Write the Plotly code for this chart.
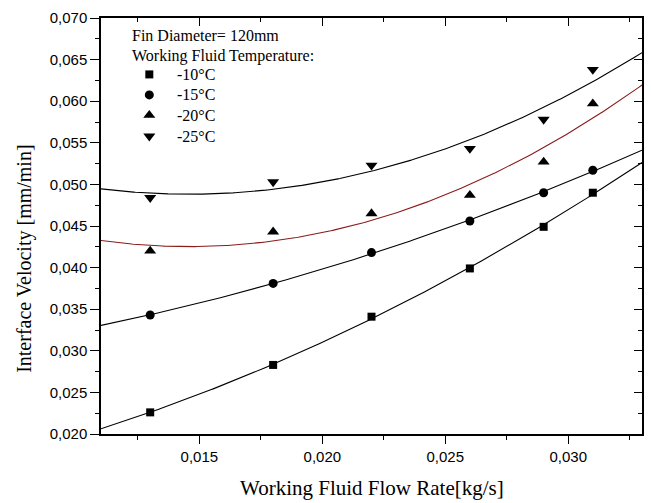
import numpy as np
import plotly.graph_objects as go

# Measured interface velocity vs. working fluid flow rate (fin diameter 120 mm)
flow_rate = [0.013, 0.018, 0.022, 0.026, 0.029, 0.031]
temperature_labels = ["-10°C", "-15°C", "-20°C", "-25°C"]
velocity_m10 = [0.0226, 0.0283, 0.0341, 0.0399, 0.0449, 0.0490]
velocity_m15 = [0.0343, 0.0381, 0.0418, 0.0456, 0.0490, 0.0517]
velocity_m20 = [0.0420, 0.0443, 0.0465, 0.0487, 0.0527, 0.0597]
velocity_m25 = [0.0484, 0.0503, 0.0523, 0.0543, 0.0578, 0.0638]
x_ticks = [0.015, 0.020, 0.025, 0.030]
y_ticks = [0.020, 0.025, 0.030, 0.035, 0.040, 0.045, 0.050, 0.055, 0.060, 0.065, 0.070]

series = [velocity_m10, velocity_m15, velocity_m20, velocity_m25]
symbols = ["square", "circle", "triangle-up", "triangle-down"]
marker_sizes = [8, 9, 10.5, 10.5]
fit_colors = ["black", "black", "#8b1a1a", "black"]

X_RANGE = [0.011, 0.033]
Y_RANGE = [0.020, 0.070]
SERIF = "Liberation Serif"
SANS = "Liberation Sans"

fig = go.Figure()

# second-order polynomial fit for each temperature
x_fit = np.linspace(X_RANGE[0], X_RANGE[1], 300)
for values, color in zip(series, fit_colors):
    coef = np.polyfit(flow_rate, values, 2)
    fig.add_trace(go.Scatter(
        x=x_fit, y=np.polyval(coef, x_fit), mode="lines",
        line=dict(color=color, width=1.1), showlegend=False, hoverinfo="skip"))

# measured points
for values, label, sym, size in zip(series, temperature_labels, symbols, marker_sizes):
    fig.add_trace(go.Scatter(
        x=flow_rate, y=values, mode="markers", name=label,
        marker=dict(symbol=sym, size=size, color="black", line=dict(width=0)),
        showlegend=False))

# key block in the upper-left corner of the frame
key_x = 0.0893
key_rows = [0.8644, 0.8151, 0.7663, 0.7160]
for label, sym, size, ky in zip(temperature_labels, symbols, marker_sizes, key_rows):
    fig.add_trace(go.Scatter(
        x=[key_x], y=[ky], mode="markers", xaxis="x3", yaxis="y3",
        marker=dict(symbol=sym, size=size, color="black", line=dict(width=0)),
        showlegend=False, hoverinfo="skip", cliponaxis=False))
    fig.add_annotation(
        text=label, x=0.1370, y=ky, xref="paper", yref="paper",
        xanchor="left", yanchor="middle", showarrow=False,
        font=dict(family=SERIF, size=16, color="black"))

fig.add_annotation(text="Fin Diameter= 120mm", x=0.0535, y=0.9577,
                   xref="paper", yref="paper", xanchor="left", yanchor="middle",
                   showarrow=False, font=dict(family=SERIF, size=16, color="black"))
fig.add_annotation(text="Working Fluid Temperature:", x=0.0535, y=0.9098,
                   xref="paper", yref="paper", xanchor="left", yanchor="middle",
                   showarrow=False, font=dict(family=SERIF, size=16, color="black"))

# axis titles
fig.add_annotation(text="Working Fluid Flow Rate[kg/s]", x=0.5, y=-0.129,
                   xref="paper", yref="paper", xanchor="center", yanchor="middle",
                   showarrow=False, font=dict(family=SERIF, size=21, color="black"))
fig.add_annotation(text="Interface Velocity [mm/min]", x=-0.1405, y=0.421,
                   xref="paper", yref="paper", xanchor="center", yanchor="middle",
                   textangle=-90, showarrow=False,
                   font=dict(family=SERIF, size=20, color="black"))

tick_font = dict(family=SANS, size=15, color="black")
axis_common = dict(showgrid=False, zeroline=False, showline=True,
                   linecolor="black", linewidth=1.5, tickcolor="black", tickwidth=1.3)

fig.update_layout(
    width=651, height=503,
    margin=dict(l=101, r=9, t=16, b=69),
    paper_bgcolor="white", plot_bgcolor="white",
    separators=",.",
    xaxis=dict(range=X_RANGE, tickmode="array", tickvals=x_ticks, tickformat=".3f",
               ticks="outside", ticklen=8, tickfont=tick_font,
               minor=dict(dtick=0.0025, tick0=0, ticks="outside", ticklen=4,
                          tickcolor="black", tickwidth=1.3),
               **axis_common),
    yaxis=dict(range=Y_RANGE, tickmode="array", tickvals=y_ticks, tickformat=".3f",
               ticks="outside", ticklen=9, tickfont=tick_font,
               minor=dict(dtick=0.0025, tick0=0, ticks="outside", ticklen=4,
                          tickcolor="black", tickwidth=1.3),
               **axis_common),
    xaxis2=dict(range=X_RANGE, overlaying="x", side="top", anchor="y",
                tickmode="array", tickvals=x_ticks, showticklabels=False,
                ticks="inside", ticklen=8,
                minor=dict(dtick=0.0025, tick0=0, ticks="inside", ticklen=4,
                           tickcolor="black", tickwidth=1.3),
                **axis_common),
    yaxis2=dict(range=Y_RANGE, overlaying="y", side="right", anchor="x",
                tickmode="array", tickvals=y_ticks, showticklabels=False,
                ticks="inside", ticklen=8,
                minor=dict(dtick=0.0025, tick0=0, ticks="inside", ticklen=4,
                           tickcolor="black", tickwidth=1.3),
                **axis_common),
    xaxis3=dict(range=[0, 1], overlaying="x", visible=False),
    yaxis3=dict(range=[0, 1], overlaying="y", visible=False),
    showlegend=False,
)

# the mirrored frame axes need a trace to be drawn
fig.add_trace(go.Scatter(x=[None], y=[None], xaxis="x2", yaxis="y2",
                         showlegend=False, hoverinfo="skip"))

fig.write_html("out.html")
